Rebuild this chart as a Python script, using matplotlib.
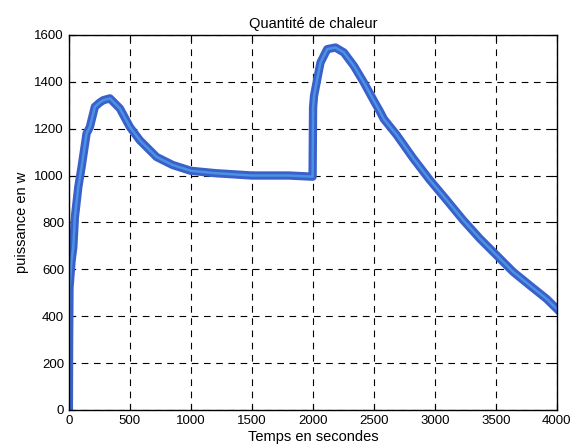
import matplotlib
matplotlib.use('Agg')
import matplotlib.pyplot as plt

plt.rcParams['font.family'] = ['Liberation Sans', 'DejaVu Sans']

temps = [0, 2, 5, 22, 36, 49, 77, 104, 145, 172, 213, 250, 281, 336, 418, 500,
         582, 719, 850, 1000, 1200, 1500, 1800, 1998,
         2002, 2010, 2036, 2063, 2118, 2186, 2254, 2336, 2418, 2500, 2549,
         2582, 2686, 2822, 2959, 3096, 3232, 3369, 3506, 3642, 3779, 3916, 4000]
puissance = [0, 300, 521, 636, 693, 821, 950, 1036, 1179, 1207, 1293, 1310, 1321, 1329, 1286, 1207,
             1150, 1079, 1045, 1020, 1010, 1000, 1000, 995,
             1291, 1340, 1411, 1482, 1539, 1546, 1525, 1468, 1397, 1319, 1274,
             1241, 1174, 1074, 981, 896, 810, 731, 660, 589, 531, 474, 431]

fig = plt.figure(figsize=(5.74, 4.47), dpi=100)
ax = fig.add_axes([0.120, 0.083, 0.850, 0.839])

# bande bleue épaisse (signal bruité) + trace centrale plus claire
ax.plot(temps, puissance, color='#3a60cc', linewidth=6, solid_joinstyle='round')
ax.plot(temps, puissance, color='#4a92e2', linewidth=1.8)

ax.set_xlim(0, 4000)
ax.set_ylim(0, 1600)
ax.set_xticks(range(0, 4001, 500))
ax.set_yticks(range(0, 1601, 200))
ax.grid(True, color='black', linestyle=(0, (6, 5)), linewidth=0.8)
ax.tick_params(direction='in', top=True, right=True, labelsize=9.5, length=4)
for s in ax.spines.values():
    s.set_linewidth(1.0)

ax.set_title('Quantité de chaleur', fontsize=10.5, pad=5)
ax.set_xlabel('Temps en secondes', fontsize=10.5, labelpad=2)
ax.set_ylabel('puissance en w', fontsize=10.5, labelpad=4)

fig.savefig('out.png', dpi=100)
